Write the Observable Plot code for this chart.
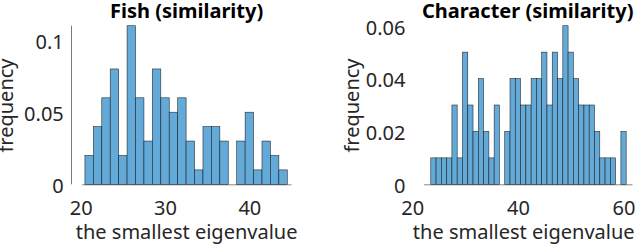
<!DOCTYPE html>
<html><head><meta charset="utf-8">
<script src="https://cdn.jsdelivr.net/npm/d3@7"></script>
<script src="https://cdn.jsdelivr.net/npm/@observablehq/plot@0.6"></script>
<style>
html,body{margin:0;padding:0;background:#fff;}
#wrap{display:flex;width:640px;height:247px;overflow:hidden;}
#wrap svg{font-family:"Noto Sans",sans-serif;display:block;}
</style></head><body><div id="wrap"></div>
<script>
// ---- data ----
const fishBinCenters = [21,22,23,24,25,26,27,28,29,30,31,32,33,34,35,36,37,38,39,40,41,42,43,44];
const fishFreq = [0.02,0.04,0.06,0.08,0.02,0.11,0.06,0.03,0.08,0.06,0.05,0.06,0.03,0.01,0.04,0.04,0.03,0,0.03,0.05,0.01,0.03,0.02,0.01];
const charBinCenters = [24,25,26,27,28,29,30,31,32,33,34,35,36,37,38,39,40,41,42,43,44,45,46,47,48,49,50,51,52,53,54,55,56,57,58,59,60];
const charFreq = [0.01,0.01,0.01,0.01,0.03,0.01,0.05,0.03,0.02,0.04,0.02,0.01,0.03,0,0.02,0.04,0.04,0.03,0.03,0.04,0.04,0.05,0.03,0.05,0.04,0.06,0.05,0.04,0.03,0.03,0.03,0.02,0.01,0.01,0.01,0,0.02];
const binWidth = 1;
const fishTicksX = [20,30,40];
const fishTicksY = [0,0.05,0.1];
const charTicksX = [20,40,60];
const charTicksY = [0,0.02,0.04,0.06];
const fishXDomain = [20,45];
const charXDomain = [20,62];
const fishYDomain = [0,0.11];
const charYDomain = [0,0.06];
const fishBaseline = [20.15,45];
const charBaseline = [22.2,61.7];
const titles = ["Fish (similarity)","Character (similarity)"];
const xLabel = "the smallest eigenvalue";
const yLabel = "frequency";

function panel(o){
  const data = o.centers.map((c,i)=>({x1:c-binWidth/2,x2:c+binWidth/2,f:o.freq[i]}));
  const marks = [
    Plot.ruleY([0],{x1:o.baseline[0],x2:o.baseline[1],stroke:"#8a8a8a",strokeWidth:1}),
    Plot.rectY(data,{x1:"x1",x2:"x2",y:"f",fill:"rgb(100,170,217)",stroke:"#111",strokeWidth:0.6,strokeOpacity:0.85}),
    Plot.axisX({ticks:o.xTicks,tickSize:0,tickPadding:15.5,label:null,fill:"#262626",fontSize:20}),
    Plot.axisY({ticks:o.yTicks,tickSize:0,tickPadding:o.yPad,label:null,dy:2,fill:"#262626",fontSize:20,tickFormat:d=>String(d)}),
    Plot.text([o.title],{frameAnchor:"top",dy:-14.5,dx:o.titleDx,lineAnchor:"middle",fontWeight:"bold",fontSize:20,fill:"#000"}),
    Plot.text([xLabel],{frameAnchor:"bottom",dy:47.5,lineAnchor:"middle",fontSize:20,fill:"#262626"}),
    Plot.text([yLabel],{frameAnchor:"left",dx:o.yLabelDx,rotate:-90,textAnchor:"middle",lineAnchor:"middle",fontSize:20,fill:"#262626"})
  ];
  if (o.yLine) marks.push(Plot.ruleX([o.xDomain[0]],{y1:o.yDomain[0],y2:o.yDomain[1],dx:-9.7,stroke:"#7a7a7a",strokeWidth:1}));
  return Plot.plot({
    width:320,height:247,
    marginLeft:o.ml,marginRight:o.mr,marginTop:25.7,marginBottom:62.7,
    x:{domain:o.xDomain},
    y:{domain:o.yDomain},
    style:{fontFamily:"Noto Sans, sans-serif",fontSize:"20px",background:"#fff",overflow:"visible"},
    marks
  });
}

const wrap = document.getElementById("wrap");
wrap.appendChild(panel({centers:fishBinCenters,freq:fishFreq,xDomain:fishXDomain,yDomain:fishYDomain,
  xTicks:fishTicksX,yTicks:fishTicksY,baseline:fishBaseline,title:titles[0],titleDx:0,
  ml:80.7,mr:28.5,yPad:17.4,yLabelDx:-74.9,yLine:true}));
wrap.appendChild(panel({centers:charBinCenters,freq:charFreq,xDomain:charXDomain,yDomain:charYDomain,
  xTicks:charTicksX,yTicks:charTicksY,baseline:charBaseline,title:titles[1],titleDx:4,
  ml:92.3,mr:5.9,yPad:7.3,yLabelDx:-59.9,yLine:false}));
</script></body></html>
